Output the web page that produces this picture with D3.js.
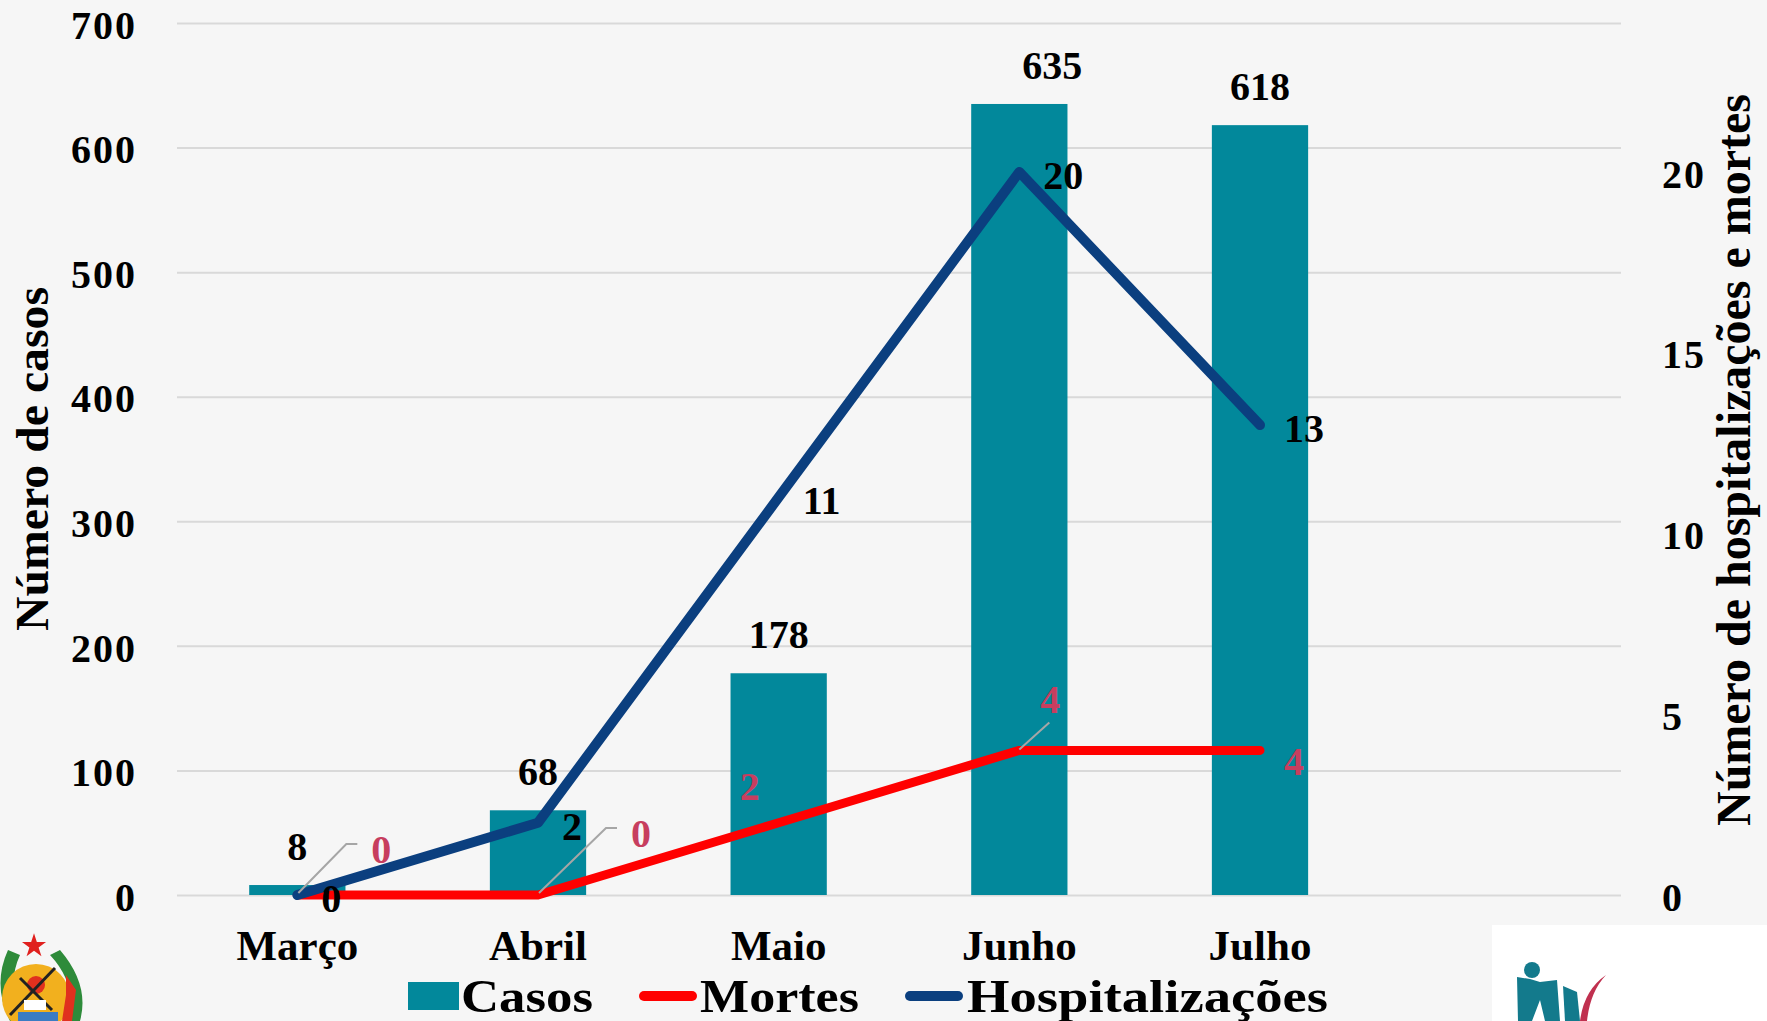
<!DOCTYPE html>
<html>
<head>
<meta charset="utf-8">
<script src="https://cdn.jsdelivr.net/npm/d3@7"></script>
<style>
  html, body { margin: 0; padding: 0; background: #f6f6f6; }
  svg { display: block; }
  text { font-family: "Liberation Serif", "Times New Roman", serif; font-weight: bold; }
</style>
</head>
<body>
<svg id="chart" width="1767" height="1021"></svg>
<script>
// ---- data ----
const categories = ["Março", "Abril", "Maio", "Junho", "Julho"];
const casos = [8, 68, 178, 635, 618];
const mortes = [0, 0, 2, 4, 4];
const hospitalizacoes = [0, 2, 11, 20, 13];
const leftTicks = [0, 100, 200, 300, 400, 500, 600, 700];
const rightTicks = [0, 5, 10, 15, 20];
const seriesNames = ["Casos", "Mortes", "Hospitalizações"];

// ---- label placement (style, not data) ----
const casosLabelDx = [0, 0, 0, 33, 0];
const mortesLabelPos = [[84, -32, true], [103, -48, true], [-29, -23, false], [31, -37, true], [34, 25, false]];

const W = 1767, H = 1021;
const svg = d3.select("#chart");

svg.append("rect").attr("width", W).attr("height", H).attr("fill", "#f6f6f6");

const x0 = 177, x1 = 1621, yTop = 23, yBot = 895;
const x = d3.scaleBand().domain([...categories, ""]).range([x0, x1]).padding(0);
const yL = d3.scaleLinear().domain([0, 700]).range([yBot, yTop]);
const yR = d3.scaleLinear().domain([0, 24.12]).range([yBot, yTop]);
const cx = c => x(c) + x.bandwidth() / 2;

// gridlines + left axis
const gAxL = svg.append("g").attr("transform", `translate(${x0},0)`)
  .call(d3.axisLeft(yL).tickValues(leftTicks).tickSize(-(x1 - x0)).tickPadding(40).tickFormat(d3.format("d")));
gAxL.select(".domain").remove();
gAxL.selectAll(".tick line").attr("stroke", "#d9d9d9").attr("stroke-width", 2);
gAxL.selectAll(".tick text").attr("font-size", 40).attr("letter-spacing", 2).attr("fill", "#000")
  .attr("font-family", "Liberation Serif").attr("font-weight", "bold").attr("dy", "0.38em");

// right axis
const gAxR = svg.append("g").attr("transform", `translate(${x1},0)`)
  .call(d3.axisRight(yR).tickValues(rightTicks).tickSize(0).tickPadding(41).tickFormat(d3.format("d")));
gAxR.select(".domain").remove();
gAxR.selectAll(".tick text").attr("font-size", 40).attr("letter-spacing", 2).attr("fill", "#000")
  .attr("font-family", "Liberation Serif").attr("font-weight", "bold").attr("dy", "0.38em");

// bars
const barW = x.bandwidth() * 0.4;
svg.append("g").selectAll("rect").data(casos).join("rect")
  .attr("x", (d, i) => cx(categories[i]) - barW / 2)
  .attr("y", d => yL(d))
  .attr("width", barW)
  .attr("height", d => yBot - yL(d))
  .attr("fill", "#02889b");

// x axis labels
const gAxX = svg.append("g").attr("transform", `translate(0,${yBot})`)
  .call(d3.axisBottom(x).tickSize(0).tickPadding(0));
gAxX.select(".domain").remove();
gAxX.selectAll(".tick text").attr("font-size", 43).attr("fill", "#000")
  .attr("font-family", "Liberation Serif").attr("font-weight", "bold").attr("y", 65).attr("dy", 0);

// lines
const lineGen = d3.line().x((d, i) => cx(categories[i])).y(d => yR(d));
svg.append("path").datum(mortes).attr("d", lineGen)
  .attr("fill", "none").attr("stroke", "#ff0000").attr("stroke-width", 9)
  .attr("stroke-linecap", "round").attr("stroke-linejoin", "round");
svg.append("path").datum(hospitalizacoes).attr("d", lineGen)
  .attr("fill", "none").attr("stroke", "#0b3f7f").attr("stroke-width", 10)
  .attr("stroke-linecap", "round").attr("stroke-linejoin", "round");

// casos labels
svg.append("g").selectAll("text").data(casos).join("text")
  .attr("x", (d, i) => cx(categories[i]) + casosLabelDx[i])
  .attr("y", d => yL(d) - 25)
  .attr("text-anchor", "middle").attr("font-size", 40).attr("fill", "#000")
  .text(d => d);

// hospitalizações labels
svg.append("g").selectAll("text").data(hospitalizacoes).join("text")
  .attr("x", (d, i) => cx(categories[i]) + 24)
  .attr("y", d => yR(d) + 17)
  .attr("text-anchor", "start").attr("font-size", 40).attr("fill", "#000")
  .text(d => d);

// mortes labels with leader lines
const gM = svg.append("g");
mortes.forEach((d, i) => {
  const px = cx(categories[i]), py = yR(d);
  const [dx, dy, leader] = mortesLabelPos[i];
  if (leader) {
    const lx = px + dx, ly = py + dy;
    const path = i === 3
      ? `M${px},${py - 1}L${px + 30},${py - 28}`
      : `M${px + 1},${py - 2}L${lx - 35},${ly - 19}L${lx - 24},${ly - 19}`;
    gM.append("path").attr("d", path).attr("fill", "none").attr("stroke", "#a6a6a6").attr("stroke-width", 2);
  }
  gM.append("text").attr("x", px + dx).attr("y", py + dy)
    .attr("text-anchor", "middle").attr("font-size", 40).attr("fill", "#c73e5f")
    .text(d);
});

// axis titles
svg.append("text").attr("transform", "translate(48,459) rotate(-90)")
  .attr("text-anchor", "middle").attr("font-size", 47).attr("fill", "#000")
  .attr("textLength", 344).attr("lengthAdjust", "spacingAndGlyphs")
  .text("Número de casos");
svg.append("text").attr("transform", "translate(1750,460) rotate(-90)")
  .attr("text-anchor", "middle").attr("font-size", 48).attr("fill", "#000")
  .attr("textLength", 732).attr("lengthAdjust", "spacingAndGlyphs")
  .text("Número de hospitalizações e mortes");

// legend
const leg = svg.append("g");
const legendItems = [
  { name: seriesNames[0], type: "rect", color: "#02889b", sx: 408, tx: 461, tw: 132 },
  { name: seriesNames[1], type: "line", color: "#ff0000", sx: 639, tx: 700, tw: 159 },
  { name: seriesNames[2], type: "line", color: "#0b3f7f", sx: 905, tx: 967, tw: 361 }
];
legendItems.forEach(it => {
  if (it.type === "rect") {
    leg.append("rect").attr("x", it.sx).attr("y", 982).attr("width", 51).attr("height", 28).attr("fill", it.color);
  } else {
    leg.append("line").attr("x1", it.sx + 5).attr("x2", it.sx + 53).attr("y1", 996).attr("y2", 996)
      .attr("stroke", it.color).attr("stroke-width", 10).attr("stroke-linecap", "round");
  }
  leg.append("text").attr("x", it.tx).attr("y", 1012).attr("font-size", 47).attr("fill", "#000")
    .attr("textLength", it.tw).attr("lengthAdjust", "spacingAndGlyphs").text(it.name);
});

// emblem (bottom-left, decorative)
const em = svg.append("g");
em.append("path").attr("d", "M8,950 Q-8,985 10,1021 L22,1021 Q6,985 20,955 Z").attr("fill", "#2e8b3a");
em.append("path").attr("d", "M60,950 Q90,985 80,1021 L68,1021 Q78,985 50,955 Z").attr("fill", "#2e8b3a");
em.append("circle").attr("cx", 36).attr("cy", 998).attr("r", 34).attr("fill", "#f2b01e");
em.append("circle").attr("cx", 36).attr("cy", 985).attr("r", 9).attr("fill", "#e0301e");
em.append("path").attr("d", "M66,975 L76,990 L72,1021 L62,1021 L66,995 Z").attr("fill", "#e0301e");
em.append("path").attr("d", d3.symbol(d3.symbolStar, 180)()).attr("transform", "translate(34,946)").attr("fill", "#e0201e");
em.append("line").attr("x1", 10).attr("y1", 1015).attr("x2", 55).attr("y2", 968).attr("stroke", "#222").attr("stroke-width", 3);
em.append("line").attr("x1", 20).attr("y1", 978).attr("x2", 52).attr("y2", 1010).attr("stroke", "#222").attr("stroke-width", 3);
em.append("rect").attr("x", 24).attr("y", 1000).attr("width", 22).attr("height", 10).attr("fill", "#fff");
em.append("rect").attr("x", 18).attr("y", 1012).attr("width", 40).attr("height", 9).attr("fill", "#3a7cc4");

// logo area (bottom-right, decorative)
const lg = svg.append("g");
lg.append("rect").attr("x", 1492).attr("y", 925).attr("width", 275).attr("height", 96).attr("fill", "#ffffff");
lg.append("circle").attr("cx", 1532).attr("cy", 970).attr("r", 8).attr("fill", "#137a8c");
lg.append("path").attr("d", "M1517,977 L1530,979 L1540,982 L1557,980 L1560,1021 L1545,1021 L1540,1000 L1532,1021 L1518,1021 Z").attr("fill", "#137a8c");
lg.append("path").attr("d", "M1563,986 L1577,992 L1580,1021 L1565,1021 Z").attr("fill", "#137a8c");
lg.append("path").attr("d", "M1606,975 Q1584,990 1580,1021 L1587,1021 Q1590,992 1606,975 Z").attr("fill", "#c0304f");
</script>
</body>
</html>
